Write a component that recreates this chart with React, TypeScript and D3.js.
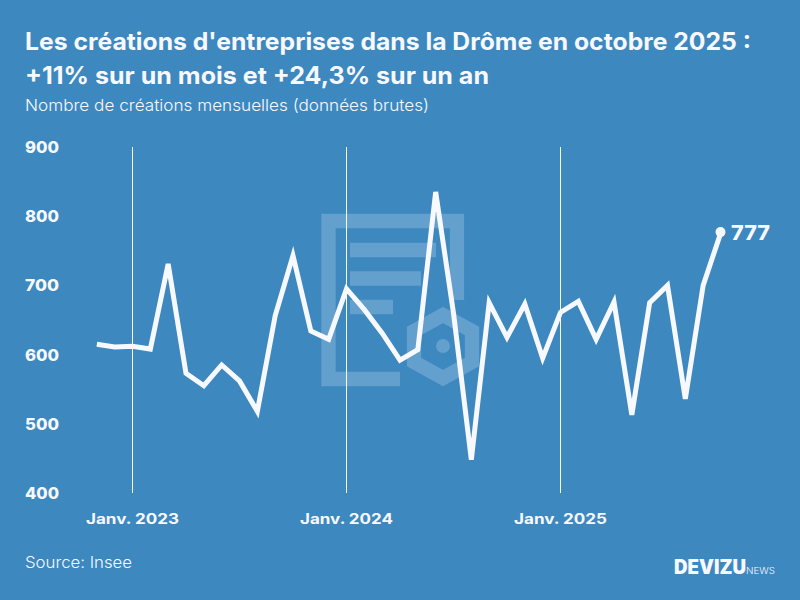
import * as d3 from 'd3';
import { useEffect, useRef } from 'react';

const monthIndex = d3.range(36);
const values = [
  615, 611, 612, 608, 731, 573, 555, 585, 562, 518, 656, 743,
  634, 622, 695, 665, 631, 592, 607, 835, 660, 448, 675, 625,
  673, 595, 661, 677, 622, 676, 513, 675, 700, 536, 700, 777,
];
const yTicks = [400, 500, 600, 700, 800, 900];
const xTickMonths = [2, 14, 26];
const xTickLabels = ['Janv. 2023', 'Janv. 2024', 'Janv. 2025'];

const BG = '#3c88bf';
const FG = '#f8f8ff';
const FONT = 'Inter, Lato, sans-serif';

export default function App() {
  const ref = useRef<SVGSVGElement | null>(null);

  useEffect(() => {
    if (!ref.current) return;
    const svg = d3.select(ref.current);
    svg.selectAll('*').remove();

    const width = 800;
    const height = 600;

    svg.append('rect').attr('width', width).attr('height', height).attr('fill', BG);

    const x = d3.scaleLinear().domain([2, 26]).range([132.5, 560.5]);
    const y = d3.scaleLinear().domain([400, 900]).range([493, 147]);

    // Titles
    const title = svg.append('g').attr('fill', FG).style('font-family', FONT);
    title.append('text').attr('x', 25).attr('y', 50)
      .attr('textLength', 726).attr('lengthAdjust', 'spacingAndGlyphs')
      .style('font-size', '24px').style('font-weight', 700)
      .text("Les créations d'entreprises dans la Drôme en octobre 2025 :");
    title.append('text').attr('x', 25).attr('y', 84)
      .attr('textLength', 464).attr('lengthAdjust', 'spacingAndGlyphs')
      .style('font-size', '24px').style('font-weight', 700)
      .text('+11% sur un mois et +24,3% sur un an');
    title.append('text').attr('x', 25).attr('y', 111)
      .attr('textLength', 404).attr('lengthAdjust', 'spacingAndGlyphs')
      .style('font-size', '16.5px').style('font-weight', 300)
      .text('Nombre de créations mensuelles (données brutes)');

    // Watermark logo
    const logo = svg.append('g').attr('fill', 'none').attr('stroke', FG).attr('stroke-opacity', 0.22);
    logo.append('path').attr('stroke-width', 14.3)
      .attr('d', 'M457 300V221H328.5V379H400');
    [[350, 436, 250], [350, 421, 278.5], [350, 393, 307]].forEach(([x0, x1, yy]) => {
      logo.append('line').attr('x1', x0).attr('x2', x1).attr('y1', yy).attr('y2', yy).attr('stroke-width', 14.3);
    });
    logo.append('path').attr('stroke-width', 14.3)
      .attr('d', 'M443 315L472 331V362L443 378L414 362V331Z');
    logo.append('circle').attr('cx', 443).attr('cy', 346).attr('r', 7)
      .attr('fill', FG).attr('fill-opacity', 0.22).attr('stroke', 'none');

    // Vertical grid lines + x labels
    const xAxis = svg.append('g');
    xTickMonths.forEach((m, i) => {
      xAxis.append('line').attr('x1', x(m)).attr('x2', x(m))
        .attr('y1', y(900)).attr('y2', y(400))
        .attr('stroke', FG).attr('stroke-width', 1);
      xAxis.append('text').attr('x', x(m)).attr('y', 524)
        .attr('text-anchor', 'middle').attr('fill', FG)
        .attr('textLength', 93).attr('lengthAdjust', 'spacingAndGlyphs')
        .style('font-family', FONT).style('font-size', '14.5px').style('font-weight', 700)
        .text(xTickLabels[i]);
    });

    // Y labels
    svg.append('g').selectAll('text').data(yTicks).enter().append('text')
      .attr('x', 59).attr('y', (d) => y(d) + 6)
      .attr('text-anchor', 'end').attr('fill', FG)
      .attr('textLength', 34).attr('lengthAdjust', 'spacingAndGlyphs')
      .style('font-family', FONT).style('font-size', '16px').style('font-weight', 800)
      .text((d) => d);

    // Line
    const line = d3.line<number>()
      .x((_, i) => x(monthIndex[i]))
      .y((d) => y(d));
    svg.append('path').datum(values)
      .attr('d', line)
      .attr('fill', 'none').attr('stroke', FG).attr('stroke-width', 5)
      .attr('stroke-linejoin', 'miter').attr('stroke-miterlimit', 4);

    // Last point and label
    const lastI = values.length - 1;
    svg.append('circle').attr('cx', x(monthIndex[lastI]) - 0.5).attr('cy', y(values[lastI]))
      .attr('r', 5).attr('fill', FG);
    svg.append('text').attr('x', 731).attr('y', y(values[lastI]) + 8)
      .attr('fill', FG).attr('textLength', 39).attr('lengthAdjust', 'spacingAndGlyphs')
      .style('font-family', FONT).style('font-size', '20px').style('font-weight', 800)
      .text(values[lastI]);

    // Footer
    svg.append('text').attr('x', 25).attr('y', 568).attr('fill', FG)
      .attr('textLength', 107).attr('lengthAdjust', 'spacingAndGlyphs')
      .style('font-family', FONT).style('font-size', '16px').style('font-weight', 300).text('Source: Insee');
    svg.append('text').attr('x', 674).attr('y', 574).attr('fill', FG)
      .attr('textLength', 72).attr('lengthAdjust', 'spacingAndGlyphs')
      .style('font-family', FONT).style('font-size', '19.5px').style('font-weight', 900).text('DEVIZU');
    svg.append('text').attr('x', 746).attr('y', 574).attr('fill', FG)
      .attr('textLength', 29).attr('lengthAdjust', 'spacingAndGlyphs')
      .style('font-family', FONT).style('font-size', '9.5px').style('font-weight', 300).text('NEWS');
  }, []);

  return (
    <svg
      ref={ref}
      width={800}
      height={600}
      viewBox="0 0 800 600"
      style={{ position: 'absolute', top: 0, left: 0, display: 'block' }}
      role="img"
      aria-label="Créations d'entreprises dans la Drôme"
    />
  );
}
